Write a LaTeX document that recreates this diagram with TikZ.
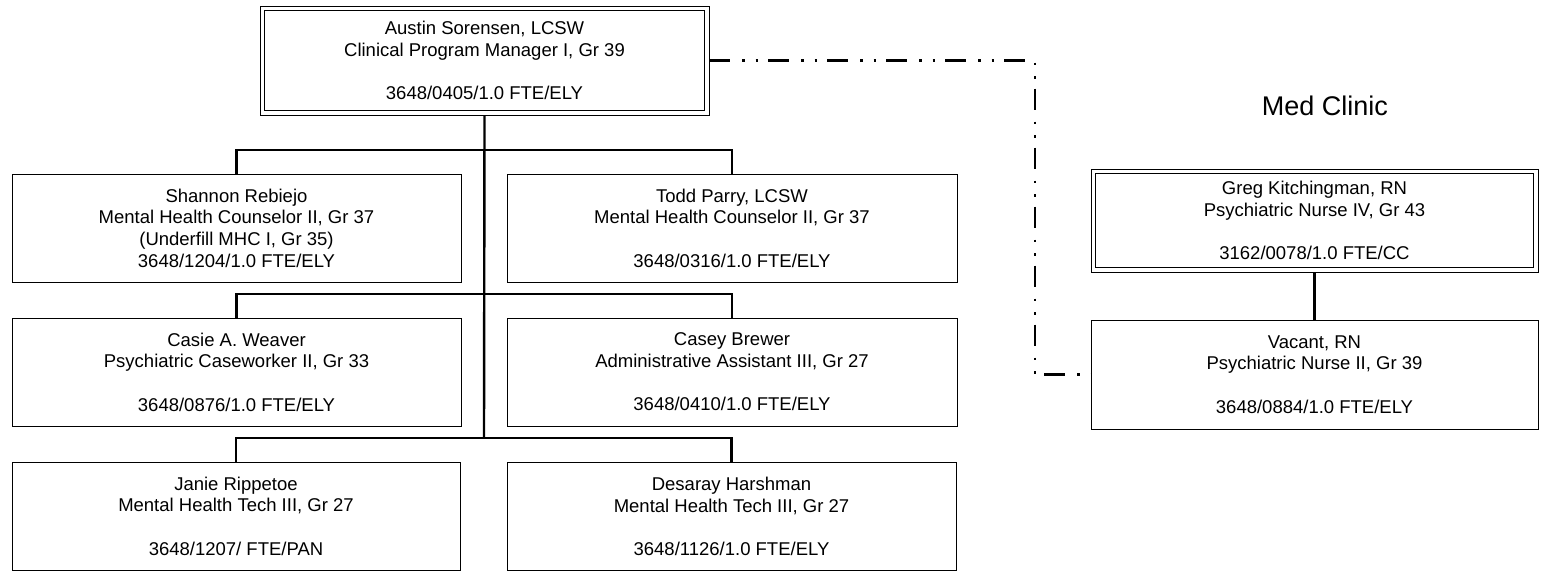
\documentclass[tikz,border=0pt]{standalone}
\usepackage{fontspec}
\setmainfont{Liberation Sans}
\begin{document}
\begin{tikzpicture}[x=1pt,y=-1pt,
  box/.style={draw=black, line width=1pt, inner sep=0pt, outer sep=0pt, align=center,
    font=\fontsize{18.5}{21.7}\selectfont, minimum width=449pt, minimum height=108pt},
  innerframe/.style={draw=black, line width=0.9pt},
  conn/.style={draw=black, line width=2.4pt},
  ddline/.style={draw=black, line width=2.2pt, dash pattern=on 21pt off 12pt on 2.5pt off 11pt on 2.5pt off 10pt},
  title/.style={font=\fontsize{27}{31}\selectfont}]
\useasboundingbox (0,0) rectangle (1543,573);
\fill[white] (0,0) rectangle (1543,573);
% nodes
\node[box, minimum height=109pt] (top) at (484.5,60.5)
  {Austin Sorensen, LCSW\\Clinical Program Manager I, Gr 39\\[21.7pt]3648/0405/1.0 FTE/ELY};
\draw[innerframe] ([shift={(4.5pt,-4.5pt)}]top.north west) rectangle ([shift={(-4.5pt,4.5pt)}]top.south east);
\node[box] (shannon) at (236.5,228)
  {Shannon Rebiejo\\Mental Health Counselor II, Gr 37\\(Underfill MHC I, Gr 35)\\3648/1204/1.0 FTE/ELY};
\node[box, minimum width=450pt] (todd) at (732,228)
  {Todd Parry, LCSW\\Mental Health Counselor II, Gr 37\\[21.7pt]3648/0316/1.0 FTE/ELY};
\node[box] (casie) at (236.5,372)
  {Casie A. Weaver\\Psychiatric Caseworker II, Gr 33\\[21.7pt]3648/0876/1.0 FTE/ELY};
\node[box, minimum width=450pt] (casey) at (732,372)
  {Casey Brewer\\Administrative Assistant III, Gr 27\\[21.7pt]3648/0410/1.0 FTE/ELY};
\node[box, minimum width=448pt] (janie) at (236,516)
  {Janie Rippetoe\\Mental Health Tech III, Gr 27\\[21.7pt]3648/1207/ FTE/PAN};
\node[box] (desaray) at (731.5,516.5)
  {Desaray Harshman\\Mental Health Tech III, Gr 27\\[21.7pt]3648/1126/1.0 FTE/ELY};
\node[title] (med) at (1325,106) {Med Clinic};
\node[box, minimum width=447pt, minimum height=103pt] (greg) at (1314.5,220.5)
  {Greg Kitchingman, RN\\Psychiatric Nurse IV, Gr 43\\[21.7pt]3162/0078/1.0 FTE/CC};
\draw[innerframe] ([shift={(4.5pt,-4.5pt)}]greg.north west) rectangle ([shift={(-4.5pt,4.5pt)}]greg.south east);
\node[box, minimum width=447pt, minimum height=109pt] (vacant) at (1314.5,374.5)
  {Vacant, RN\\Psychiatric Nurse II, Gr 39\\[21.7pt]3648/0884/1.0 FTE/ELY};
% junctions
\coordinate (j1) at (484,150);
\coordinate (j2) at (484,294);
\coordinate (j3) at (484,438);
\coordinate (ddc) at (1035,0);
% connectors
\draw[conn] (top.south) -- (j3);
\draw[conn] (shannon.north) |- (j1) -| (todd.north);
\draw[conn] (casie.north) |- (j2) -| (casey.north);
\draw[conn] (janie.north) |- (j3) -| (desaray.north);
\draw[conn] (greg.south) -- (vacant.north);
\draw[ddline] (top.east) -| (ddc |- vacant.west) -- (vacant.west);
\end{tikzpicture}
\end{document}
